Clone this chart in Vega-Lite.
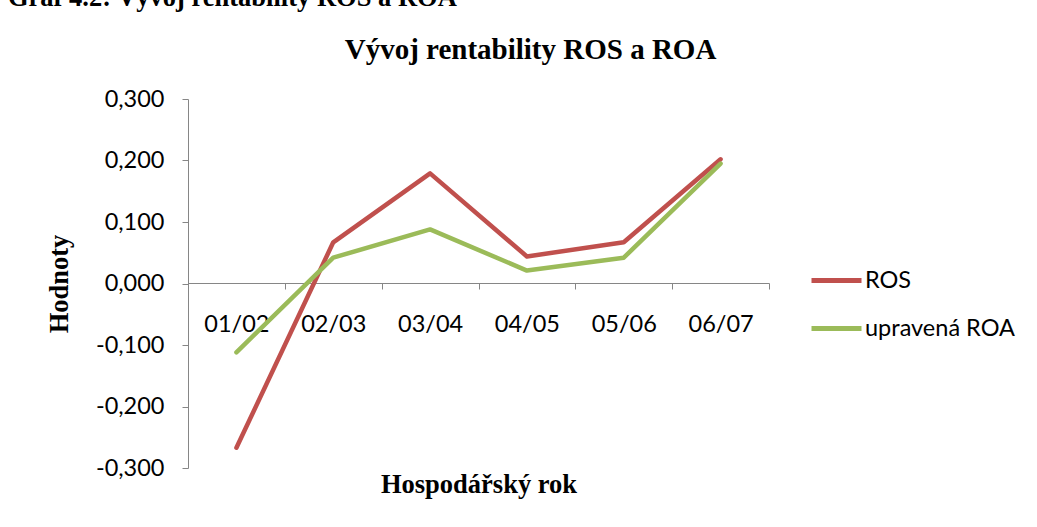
{
  "$schema": "https://vega.github.io/schema/vega-lite/v6.json",
  "width": 581,
  "height": 369,
  "autosize": {"type": "none"},
  "padding": {"left": 188, "top": 99, "right": 268, "bottom": 59},
  "background": "white",
  "config": {"view": {"stroke": null}, "font": "Lato"},
  "title": {
    "text": "Graf 4.2: Vývoj rentability ROS a ROA",
    "font": "Liberation Serif",
    "fontSize": 26.5,
    "fontWeight": "bold",
    "color": "black",
    "anchor": "start",
    "frame": "group",
    "dx": -180,
    "offset": 24
  },
  "data": {
    "values": [
      {"year": "01/02", "series": "ROS", "value": -0.267},
      {"year": "02/03", "series": "ROS", "value": 0.067},
      {"year": "03/04", "series": "ROS", "value": 0.179},
      {"year": "04/05", "series": "ROS", "value": 0.044},
      {"year": "05/06", "series": "ROS", "value": 0.067},
      {"year": "06/07", "series": "ROS", "value": 0.202},
      {"year": "01/02", "series": "upravená ROA", "value": -0.112},
      {"year": "02/03", "series": "upravená ROA", "value": 0.042},
      {"year": "03/04", "series": "upravená ROA", "value": 0.088},
      {"year": "04/05", "series": "upravená ROA", "value": 0.021},
      {"year": "05/06", "series": "upravená ROA", "value": 0.042},
      {"year": "06/07", "series": "upravená ROA", "value": 0.195}
    ]
  },
  "resolve": {"axis": {"x": "independent"}},
  "layer": [
    {
      "mark": {"type": "line", "strokeWidth": 4.5, "strokeJoin": "round", "strokeCap": "round"},
      "encoding": {
        "x": {
          "field": "year",
          "type": "ordinal",
          "bandPosition": 0.5,
          "scale": {"type": "band", "paddingInner": 0, "paddingOuter": 0},
          "axis": {
            "orient": "bottom",
            "offset": -185,
            "tickBand": "extent",
            "labelAngle": 0,
            "labelFont": "Lato",
            "labelFontSize": 23.5,
            "labelColor": "black",
            "labelPadding": 23,
            "domainColor": "#868686",
            "tickColor": "#868686",
            "tickSize": 6,
            "grid": false,
            "title": "Hospodářský rok",
            "titleFont": "Liberation Serif",
            "titleFontSize": 26.5,
            "titleFontWeight": "bold",
            "titleColor": "black",
            "titlePadding": 136
          }
        },
        "y": {
          "field": "value",
          "type": "quantitative",
          "scale": {"domain": [-0.3, 0.3], "nice": false, "zero": false},
          "axis": {
            "values": [-0.3, -0.2, -0.1, 0, 0.1, 0.2, 0.3],
            "labelExpr": "(datum.value < 0 ? '-' : '') + replace(format(abs(datum.value), '.3f'), '.', ',')",
            "labelFont": "Lato",
            "labelFontSize": 23.5,
            "labelColor": "black",
            "labelPadding": 18,
            "domainColor": "#868686",
            "tickColor": "#868686",
            "tickSize": 6,
            "grid": false,
            "title": "Hodnoty",
            "titleFont": "Liberation Serif",
            "titleFontSize": 26.5,
            "titleFontWeight": "bold",
            "titleColor": "black",
            "titlePadding": 22
          }
        },
        "color": {
          "field": "series",
          "type": "nominal",
          "scale": {"domain": ["ROS", "upravená ROA"], "range": ["#C0504D", "#9BBB59"]},
          "legend": {
            "title": null,
            "orient": "none",
            "legendX": 621,
            "legendY": 154,
            "symbolType": "stroke",
            "symbolStrokeWidth": 5,
            "symbolSize": 2500,
            "labelFont": "Lato",
            "labelFontSize": 23.5,
            "labelColor": "black",
            "labelOffset": 1,
            "rowPadding": 9
          }
        }
      }
    },
    {
      "mark": {"type": "line", "opacity": 0},
      "encoding": {
        "x": {
          "field": "year",
          "type": "ordinal",
          "bandPosition": 0.5,
          "axis": {
            "orient": "top",
            "domain": false,
            "ticks": false,
            "labels": false,
            "grid": false,
            "title": "Vývoj rentability ROS a ROA",
            "titleFont": "Liberation Serif",
            "titleFontSize": 29,
            "titleFontWeight": "bold",
            "titleColor": "black",
            "titleX": 342,
            "titleY": -41,
            "titleBaseline": "alphabetic"
          }
        },
        "y": {"field": "value", "type": "quantitative"},
        "detail": {"field": "series"}
      }
    }
  ]
}
